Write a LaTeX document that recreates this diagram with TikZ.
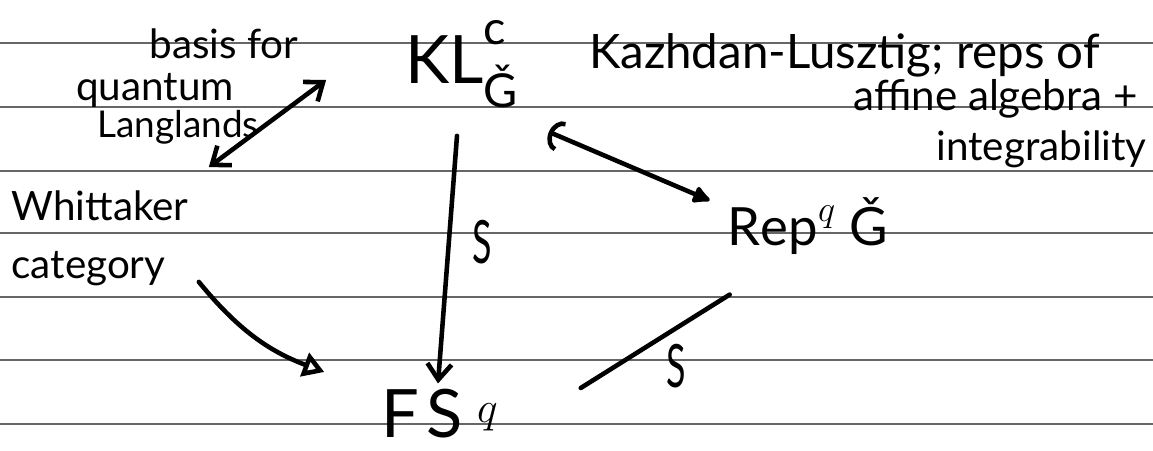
\documentclass[tikz,border=0pt]{standalone}
\usepackage{amsmath}
\usepackage{graphicx}
\usepackage{fontspec}
\setmainfont{Lato}
\usetikzlibrary{positioning,calc}
\usetikzlibrary{arrows.meta}
\tikzset{>={Straight Barb[angle'=75,length=9pt]}}
\tikzset{
  ruling/.style={draw=black!60, line width=0.6pt},
  ink/.style={line width=2.6pt, line cap=round, line join=round},
  obj/.style={inner sep=1pt, font=\fontsize{38}{42}\selectfont},
  note/.style={inner sep=0pt, font=\fontsize{23}{33}\selectfont},
  iso/.style={inner sep=0pt, font=\fontsize{34}{38}\selectfont},
}
\newcommand{\upsc}[1]{\raisebox{0.12em}{$\scriptstyle #1$}}
\newcommand{\dnsc}[1]{\raisebox{-0.2em}{$\scriptstyle #1$}}

\begin{document}
\begin{tikzpicture}[x=0.02cm, y=-0.02cm]

\useasboundingbox (0, 0) rectangle (1153, 450);
\foreach \ry in {43, 107, 171, 233, 297, 360, 424}
  \draw[ruling] (0, \ry) -- (1153, \ry);

\node[obj] (kl) at (462, 64) {$\mathrm{KL}^{\upsc{\text{c}}}_{\dnsc{\text{Ǧ}}}$};
\node[obj, font=\fontsize{30}{34}\selectfont] (rep) at (808, 226) {$\mathrm{Rep}^{q}$ Ǧ};
\node[obj, font=\fontsize{38}{42}\selectfont] (fs) at (440, 414) {$\mathrm{F}\,\mathrm{S}^{\,\,q}$};
\node[note, align=left] (whit) at (100, 238) {Whittaker\\category};

\node[note, anchor=base] (basisA) at (224, 58) {basis for};
\node[note, anchor=base] (basisB) at (155, 100) {quantum};
\node[note, anchor=base, font=\fontsize{21}{30}\selectfont] (basisC) at (178, 137) {Langlands};

\node[note, anchor=base east, font=\fontsize{27}{33}\selectfont] (kzA) at (1100, 68) {Kazhdan-Lusztig; reps of};
\node[note, anchor=base east, font=\fontsize{24}{33}\selectfont] (kzB) at (1138, 110) {affine algebra +};
\node[note, anchor=base east] (kzC) at (1147, 160) {integrability};

\draw[ink, <->] ([shift={(20,-23)}]whit.north east) -- ([shift={(-77,16)}]kl.west);
\draw[ink, {Arc Barb[length=7pt,width=18pt]}-{Latex[length=12pt,width=12pt,round]}]
  ([shift={(28,22)}]kl.south east) -- ([shift={(-16,5)}]rep.north west);
\draw[ink, ->] ([shift={(-5,26)}]kl.south) -- ([shift={(-2,-4)}]fs.north)
  node[iso, pos=0.43, right=12pt] {\scalebox{0.6}[1]{S}};
\draw[ink, -{Triangle[open,length=12pt,width=14pt]}] ([shift={(10,-4)}]whit.south east)
  to[bend right=15] ([shift={(-55,-42)}]fs.west);
\draw[ink] ([shift={(4,38)}]rep.south west) -- ([shift={(80,-26)}]fs.east)
  node[iso, pos=0.36, below=8pt] {\scalebox{0.6}[1]{S}};

\end{tikzpicture}
\end{document}
